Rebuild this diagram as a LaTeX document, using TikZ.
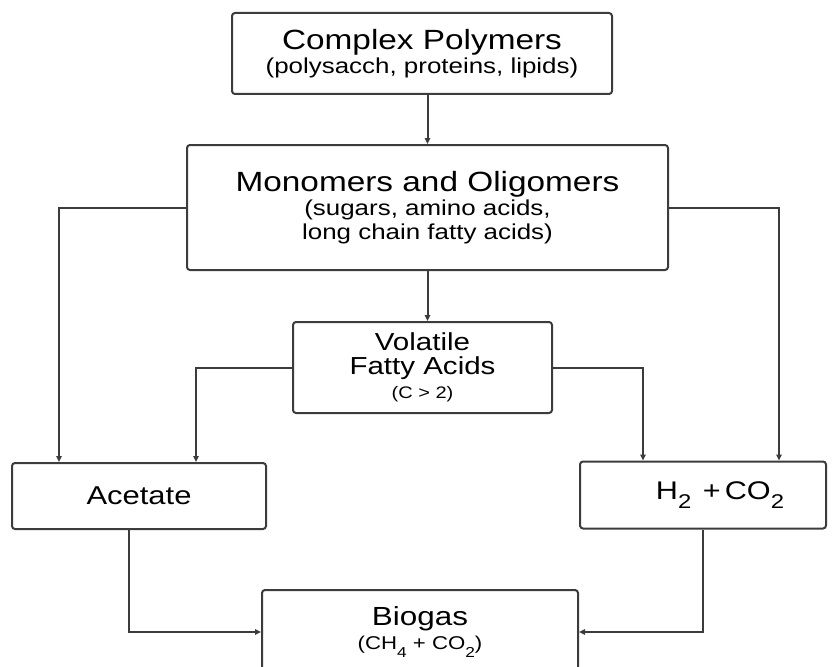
\documentclass[tikz,border=0pt]{standalone}
\usepackage{fontspec}
\setmainfont[FakeStretch=1.2]{Liberation Sans}
\usepackage{tikz}
\usetikzlibrary{arrows.meta, calc, positioning}
\definecolor{linegray}{RGB}{60,60,60}
\newcommand{\chemsub}[1]{\raisebox{-0.38em}{\scalebox{0.78}{#1}}}

\begin{document}
\begin{tikzpicture}[x=1pt,y=-1pt,>={Triangle[length=6pt,width=5.5pt]},line width=2pt,
	flow/.style={->,draw=linegray}]
	\tikzset{box/.style={draw=linegray, rounded corners=3pt, inner sep=0pt, align=center, font=\fontsize{21.6}{24}\selectfont}}
	\newcommand{\titlesize}[1]{{\fontsize{27.8}{24}\selectfont #1}}
	\useasboundingbox (0,0) rectangle (834,666);
	\clip (0,0) rectangle (834,666);
	\node[box, minimum width=380, minimum height=81] (cp) at (422,53.5) {\titlesize{Complex Polymers}\\(polysacch, proteins, lipids)};
	\node[box, minimum width=481, minimum height=125] (mo) at (427.5,207.5) {\titlesize{Monomers and Oligomers}\\(sugars, amino acids,\\long chain fatty acids)};
	\node[box, minimum width=259, minimum height=91] (vfa) at (422.5,367.5) {{\fontsize{24.6}{24}\selectfont Volatile}\\{\fontsize{24.6}{24}\selectfont Fatty Acids}\\{\fontsize{16.7}{24}\selectfont (C > 2)}};
	\node[box, minimum width=254, minimum height=66] (ac) at (139,496) {{\fontsize{25.8}{24}\selectfont Acetate}};
	\node[box, minimum width=246, minimum height=67] (h2) at (703,495) {\hspace*{34pt}{\fontsize{25.5}{24}\selectfont H\chemsub{2}\hspace{0.45em}+\,CO\chemsub{2}}};
	\node[box, minimum width=316, minimum height=84] (bg) at (420,632) {{\fontsize{26.2}{18}\selectfont Biogas}\\{\fontsize{18.5}{18}\selectfont (CH\chemsub{4} + CO\chemsub{2})}};
	% arrows between stages
	\draw[flow] (mo.north |- cp.south) -- (mo.north);
	\draw[flow] (mo.south) -- (mo.south |- vfa.north);
	\draw[flow] (mo.west) -| ([xshift=48pt]ac.north west);
	\draw[flow] (mo.east) -| ([xshift=-48pt]h2.north east);
	\draw[flow] (vfa.west) -| ([xshift=-71pt]ac.north east);
	\draw[flow] (vfa.east) -| ([xshift=64pt]h2.north west);
	\draw[flow] ([xshift=-10pt]ac.south) |- (bg.west);
	\draw[flow] (h2.south) |- (bg.east);
\end{tikzpicture}
\end{document}
